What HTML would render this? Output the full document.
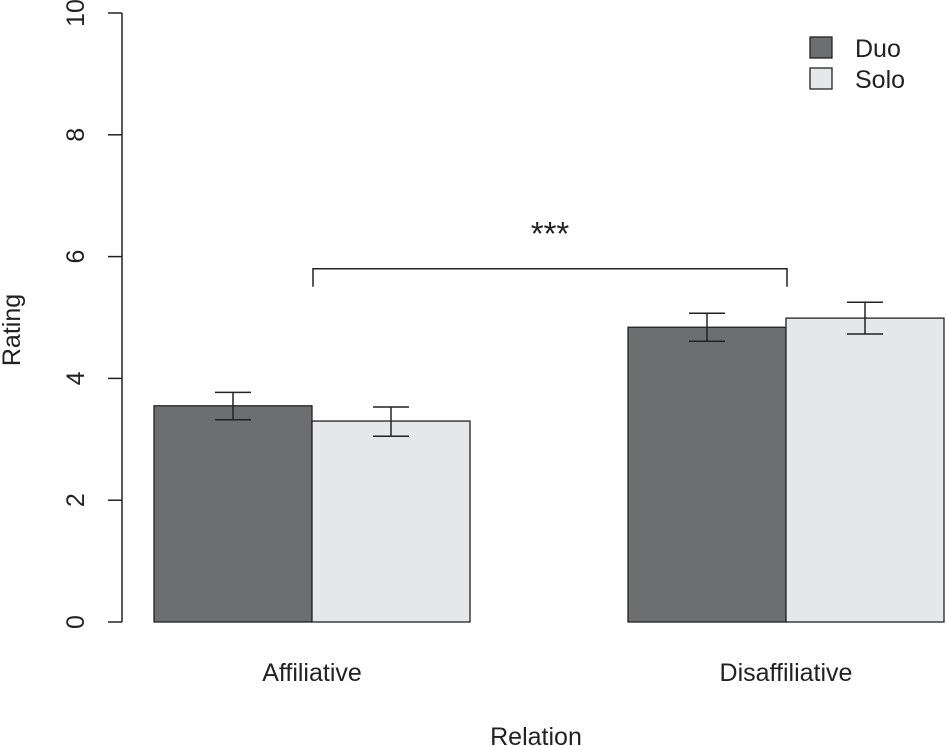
<!DOCTYPE html>
<html><head><meta charset="utf-8"><style>
html,body{margin:0;padding:0;background:#fff;}
svg{display:block;font-family:"Liberation Sans",Arial,sans-serif;}
</style></head><body>
<svg id="chart" width="946" height="746"></svg>
<script>
const categories=["Affiliative","Disaffiliative"];
const seriesNames=["Duo","Solo"];
const duoValues=[3.55,4.84];
const soloValues=[3.30,4.99];
const duoLow=[3.32,4.61];
const duoHigh=[3.77,5.07];
const soloLow=[3.05,4.73];
const soloHigh=[3.53,5.25];
const yTicks=[0,2,4,6,8,10];
const bracketValue=5.8;

const NS="http://www.w3.org/2000/svg";
const svg=document.getElementById('chart');
function y(v){return 622-v*60.9;}
function groupLeft(i){return 154+i*474;}
const barW=158;
function mk(t,a,p){const e=document.createElementNS(NS,t);for(const k in a)e.setAttribute(k,a[k]);(p||svg).appendChild(e);return e;}

let ax=mk('g',{});


mk('line',{x1:122,x2:122,y1:y(0),y2:y(10),stroke:'#222','stroke-width':1.5},ax);
yTicks.forEach(v=>{
  mk('line',{x1:108,x2:122,y1:y(v),y2:y(v),stroke:'#222','stroke-width':1.5},ax);
  const t=mk('text',{x:0,y:0,transform:`translate(84,${y(v)}) rotate(-90)`,'text-anchor':'middle','font-size':25,fill:'#222'},ax);
  t.textContent=v;
  
  
});
let yt=mk('text',{transform:'translate(20,330) rotate(-90)','text-anchor':'middle','font-size':25,fill:'#222'});
yt.textContent='Rating';



const colors=['#6d6e70','#e6e7e8'];
const vals=[duoValues,soloValues],lows=[duoLow,soloLow],highs=[duoHigh,soloHigh];
categories.forEach((c,i)=>{
  for(let s=0;s<2;s++){
    const x0=groupLeft(i)+s*barW;
    const r=mk('rect',{x:x0,y:y(vals[s][i]),width:barW,height:y(0)-y(vals[s][i]),fill:colors[s],stroke:'#222','stroke-width':1.3});
    
    
    const cx=x0+barW/2;
    const g=mk('g',{stroke:'#222','stroke-width':1.5});
    
    
    mk('line',{x1:cx,x2:cx,y1:y(lows[s][i]),y2:y(highs[s][i])},g);
    mk('line',{x1:cx-18,x2:cx+18,y1:y(lows[s][i]),y2:y(lows[s][i])},g);
    mk('line',{x1:cx-18,x2:cx+18,y1:y(highs[s][i]),y2:y(highs[s][i])},g);
  }
  const t=mk('text',{x:groupLeft(i)+barW,y:681,'text-anchor':'middle','font-size':25,fill:'#222'});
  t.textContent=c;
  
  
});
let xt=mk('text',{x:536,y:745,'text-anchor':'middle','font-size':25,fill:'#222'});
xt.textContent='Relation';



const bx1=groupLeft(0)+barW+1,bx2=groupLeft(1)+barW+1;
let br=mk('path',{d:`M${bx1},${y(bracketValue)+18}V${y(bracketValue)}H${bx2}V${y(bracketValue)+18}`,fill:'none',stroke:'#222','stroke-width':1.5});


let st=mk('text',{x:(bx1+bx2)/2,y:y(bracketValue)-24,'text-anchor':'middle','font-size':33,fill:'#222'});
st.textContent='***';



seriesNames.forEach((n,s)=>{
  const g=mk('g',{});
  
  
  mk('rect',{x:810,y:37+s*31,width:22,height:21,fill:colors[s],stroke:'#222','stroke-width':1.3},g);
  const t=mk('text',{x:855,y:57+s*31,'font-size':25,fill:'#222'},g);
  t.textContent=n;
});
</script>
</body></html>
